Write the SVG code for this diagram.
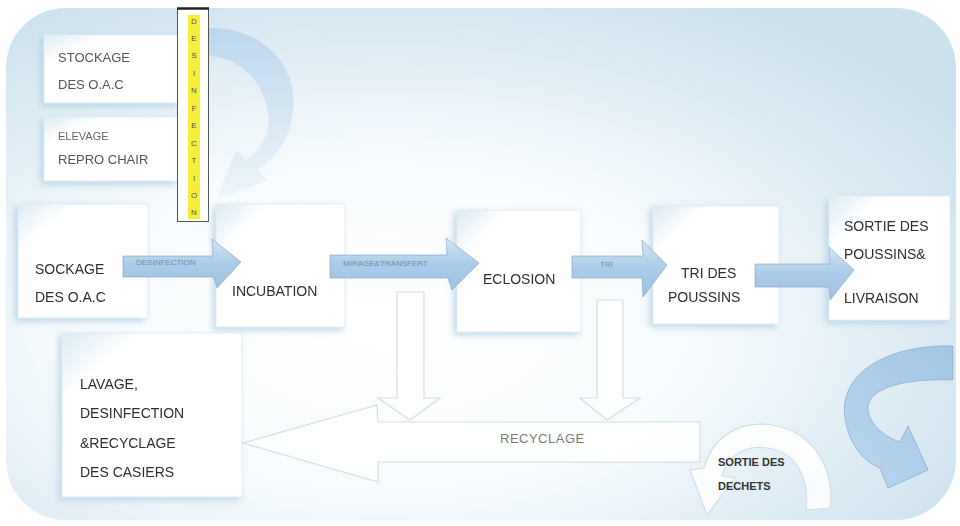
<svg xmlns="http://www.w3.org/2000/svg" width="960" height="526" viewBox="0 0 960 526">
<defs>
<radialGradient id="bg" cx="0.4" cy="0.62" r="0.72">
<stop offset="0" stop-color="#ffffff"/>
<stop offset="0.45" stop-color="#f7fbfd"/>
<stop offset="1" stop-color="#cbe1ee"/>
</radialGradient>
<linearGradient id="boxg" x1="0" y1="0" x2="1" y2="1">
<stop offset="0" stop-color="#dcebf5"/>
<stop offset="0.22" stop-color="#ffffff"/>
<stop offset="1" stop-color="#ffffff"/>
</linearGradient>
<linearGradient id="arrg" x1="0" y1="0" x2="0" y2="1">
<stop offset="0" stop-color="#d3e6f4"/>
<stop offset="0.5" stop-color="#abcce9"/>
<stop offset="1" stop-color="#9fc2e3"/>
</linearGradient>
<linearGradient id="curvg" x1="0" y1="0" x2="0" y2="1">
<stop offset="0" stop-color="#b5d3ec"/>
<stop offset="0.6" stop-color="#d7e8f4"/>
<stop offset="1" stop-color="#eef5fa"/>
</linearGradient>
<linearGradient id="curvb" x1="1" y1="0" x2="0" y2="1">
<stop offset="0" stop-color="#a3c6e6"/>
<stop offset="1" stop-color="#b9d6ee"/>
</linearGradient>
<filter id="sh" x="-20%" y="-20%" width="140%" height="140%">
<feGaussianBlur in="SourceAlpha" stdDeviation="3"/>
<feOffset dx="-3" dy="3" result="b"/>
<feFlood flood-color="#a9cbe3" flood-opacity="0.7"/>
<feComposite in2="b" operator="in"/>
<feMerge><feMergeNode/><feMergeNode in="SourceGraphic"/></feMerge>
</filter>
</defs>
<style>
.box{fill:url(#boxg);stroke:#e2edf4;stroke-width:1}
.t{font-family:"Liberation Sans",Arial,sans-serif;font-size:14px;fill:#2e2e2e}
.tl{font-family:"Liberation Sans",Arial,sans-serif;font-size:13px;fill:#555}
.ts{font-family:"Liberation Sans",Arial,sans-serif;font-size:11px;fill:#666}
.al{font-family:"Liberation Sans",Arial,sans-serif;font-size:8px;fill:#6e8ea8}
.arr{fill:url(#arrg);stroke:#7f9fbf;stroke-width:0.6}
.ghost{fill:#ffffff;fill-opacity:0.85;stroke:#d3dfe6;stroke-width:1.2}
.v{font-family:"Liberation Sans",Arial,sans-serif;font-size:8px;fill:#555;text-anchor:middle}
</style>

<rect x="6" y="8" width="950" height="512" rx="60" fill="url(#bg)"/>

<g id="n-stockage" filter="url(#sh)">
<rect class="box" x="44" y="35" width="134" height="68"/>
<text class="tl" x="58" y="62">STOCKAGE</text>
<text class="tl" x="58" y="89">DES O.A.C</text>
</g>
<g id="n-elevage" filter="url(#sh)">
<rect class="box" x="44" y="117" width="134" height="64"/>
<text class="ts" x="58" y="140">ELEVAGE</text>
<text class="tl" x="58" y="164">REPRO CHAIR</text>
</g>
<g id="n-desinfection">
<rect x="177.5" y="8.5" width="31" height="213" fill="#ffffff" stroke="#555" stroke-width="1"/>
<line x1="177" y1="8.5" x2="209" y2="8.5" stroke="#222" stroke-width="2.5"/>
<rect x="188" y="15" width="12" height="204" fill="#f7ee3b"/>
<text class="v" x="194" y="24">D</text>
<text class="v" x="194" y="41">E</text>
<text class="v" x="194" y="58">S</text>
<text class="v" x="194" y="76">I</text>
<text class="v" x="194" y="93">N</text>
<text class="v" x="194" y="111">F</text>
<text class="v" x="194" y="128">E</text>
<text class="v" x="194" y="146">C</text>
<text class="v" x="194" y="163">T</text>
<text class="v" x="194" y="181">I</text>
<text class="v" x="194" y="198">O</text>
<text class="v" x="194" y="215">N</text>
</g>
<g id="n-sockage" filter="url(#sh)">
<rect class="box" x="18" y="204" width="130" height="114"/>
<text class="t" x="35" y="274">SOCKAGE</text>
<text class="t" x="35" y="302">DES O.A.C</text>
</g>
<g id="n-incubation" filter="url(#sh)">
<rect class="box" x="216" y="204" width="129" height="123"/>
<text class="t" x="232" y="296">INCUBATION</text>
</g>
<g id="n-eclosion" filter="url(#sh)">
<rect class="box" x="457" y="210" width="124" height="122"/>
<text class="t" x="483" y="284">ECLOSION</text>
</g>
<g id="n-tri" filter="url(#sh)">
<rect class="box" x="653" y="206" width="126" height="118"/>
<text class="t" x="681" y="278">TRI DES</text>
<text class="t" x="668" y="302">POUSSINS</text>
</g>
<g id="n-sortie" filter="url(#sh)">
<rect class="box" x="829" y="196" width="121" height="124"/>
<text class="t" x="844" y="231">SORTIE DES</text>
<text class="t" x="844" y="259">POUSSINS&amp;</text>
<text class="t" x="844" y="303">LIVRAISON</text>
</g>
<g id="n-lavage" filter="url(#sh)">
<rect class="box" x="62" y="333" width="180" height="164"/>
<text class="t" x="80" y="389">LAVAGE,</text>
<text class="t" x="80" y="418">DESINFECTION</text>
<text class="t" x="80" y="448">&amp;RECYCLAGE</text>
<text class="t" x="80" y="477">DES CASIERS</text>
</g>

<g id="connectors">
<path id="c-top" d="M209 28 C264 27 302 68 292 118 C287 146 270 162 257 170 L268 180 L216 200 L236 150 L246 160 C262 148 272 132 268 112 C262 80 240 58 209 56 Z" fill="url(#curvg)" opacity="0.85"/>
<path id="c-desinf" class="arr" d="M123 256 L213 256 L212 239 L241 262 L217 288 L214 277 L123 277 Z"/>
<text class="al" x="136" y="265">DESINFECTION</text>
<path id="c-mirage" class="arr" d="M330 255 L447 255 L446 238 L479 263 L452 290 L448 278 L330 278 Z"/>
<text class="al" x="343" y="266">MIRAGE&amp;TRANSFERT</text>
<path id="c-tri" class="arr" d="M572 256 L643 256 L642 240 L667 265 L643 297 L642 278 L572 278 Z"/>
<text class="al" x="600" y="267">TRI</text>
<path id="c-liv" class="arr" d="M755 264 L830 264 L829 247 L854 270 L830 300 L829 287 L755 287 Z"/>
<path id="c-down1" class="ghost" d="M397 292 L424 292 L424 398 L440 398 L410 420 L378 398 L397 398 Z"/>
<path id="c-down2" class="ghost" d="M597 300 L623 300 L623 398 L640 398 L607 420 L580 398 L597 398 Z"/>
<path id="c-recy" class="ghost" d="M700 422 L378 422 L377 405 L243 443 L378 482 L378 462 L700 462 Z"/>
<text x="500" y="443" style="font-family:'Liberation Sans',Arial,sans-serif;font-size:13px;fill:#7a7a7a;letter-spacing:0.5px">RECYCLAGE</text>
<path id="c-dechets" class="ghost" d="M830 508 C835 470 815 432 772 425 C738 420 712 438 704 468 L690 470 L707 515 L735 478 L722 476 C728 455 745 445 768 448 C796 452 810 478 806 510 Z"/>
<text class="ts" x="718" y="466" style="fill:#333;font-weight:bold">SORTIE DES</text>
<text class="ts" x="718" y="490" style="fill:#333;font-weight:bold">DECHETS</text>
<path id="c-sortie" d="M953 346 C890 344 838 372 845 418 C849 446 865 462 880 468 L888 488 L928 470 L908 426 L900 442 C885 437 870 425 868 410 C866 388 905 378 953 380 Z" fill="url(#curvb)" stroke="#7f9fbf" stroke-width="0.6"/>
</g>
</svg>
